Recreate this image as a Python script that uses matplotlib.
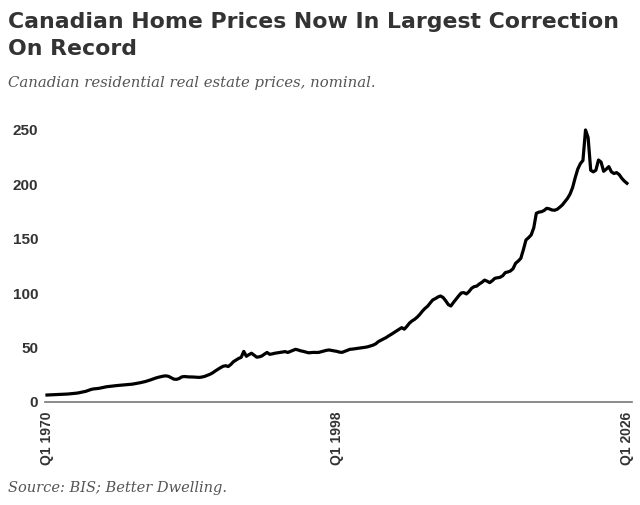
import matplotlib.pyplot as plt
import numpy as np

# quarterly index values, Q1 1970 .. Q1 2026
values = [
    6.4, 6.5, 6.6, 6.7,        # 1970
    6.8, 6.9, 7.0, 7.1,        # 1971
    7.3, 7.5, 7.7, 8.0,        # 1972
    8.3, 8.8, 9.3, 9.8,        # 1973
    10.6, 11.5, 12.0, 12.2,    # 1974
    12.5, 13.0, 13.5, 14.0,    # 1975
    14.3, 14.6, 14.9, 15.1,    # 1976
    15.3, 15.5, 15.7, 15.9,    # 1977
    16.1, 16.4, 16.8, 17.2,    # 1978
    17.7, 18.2, 18.8, 19.5,    # 1979
    20.3, 21.2, 22.0, 22.7,    # 1980
    23.2, 23.8, 24.0, 23.5,    # 1981
    22.2, 21.0, 20.8, 21.5,    # 1982
    23.0, 23.4, 23.2, 23.0,    # 1983
    23.0, 22.8, 22.7, 22.6,    # 1984
    23.0, 23.6, 24.5, 25.5,    # 1985
    26.8, 28.5, 30.0, 31.5,    # 1986
    32.8, 33.3, 32.6, 34.5,    # 1987
    37.0, 38.5, 40.0, 41.0,    # 1988
    46.5, 42.0, 43.5, 44.8,    # 1989
    43.0, 41.2, 41.5, 42.3,    # 1990
    44.0, 45.5, 43.8, 44.2,    # 1991
    44.8, 45.2, 45.6, 46.0,    # 1992
    46.3, 45.5, 46.5, 47.5,    # 1993
    48.4, 47.8, 47.0, 46.5,    # 1994
    45.8, 45.2, 45.4, 45.6,    # 1995
    45.5, 45.6, 46.2, 46.8,    # 1996
    47.5, 47.8, 47.3, 46.9,    # 1997
    46.5, 45.8, 45.6, 46.5,    # 1998
    47.5, 48.4, 48.6, 49.0,    # 1999
    49.3, 49.6, 49.9, 50.3,    # 2000
    50.8, 51.5, 52.3, 53.5,    # 2001
    55.5, 56.8, 58.0, 59.2,    # 2002
    60.8, 62.2, 63.8, 65.3,    # 2003
    66.8, 68.3, 66.9, 69.5,    # 2004
    72.5, 74.5, 76.0, 78.0,    # 2005
    80.5, 83.5, 86.0, 88.0,    # 2006
    91.0, 93.8, 95.0, 96.5,    # 2007
    97.4, 96.0, 93.0, 89.5,    # 2008
    88.2, 91.5, 94.5, 97.5,    # 2009
    100.2, 100.5, 99.3, 101.5, # 2010
    104.5, 106.0, 106.5, 108.5,  # 2011
    110.0, 112.0, 111.0, 109.7,  # 2012
    111.5, 113.7, 114.2, 114.6,  # 2013
    116.0, 118.9, 119.5, 120.4,  # 2014
    122.5, 127.5, 129.5, 132.0,  # 2015
    140.0, 148.9, 151.0, 153.5,  # 2016
    160.0, 173.4, 174.5, 174.9,  # 2017
    176.0, 178.0, 177.5, 176.5,  # 2018
    176.2, 177.0, 178.9, 181.0,  # 2019
    184.0, 187.0, 191.0, 197.0,  # 2020
    206.0, 214.0, 219.0, 222.0,  # 2021
    250.0, 243.0, 213.0, 211.5,  # 2022
    213.0, 222.4, 220.5, 212.0,  # 2023
    214.0, 216.3, 211.5, 210.0,  # 2024
    210.8, 209.0, 205.6, 203.0,  # 2025
    201.0,                       # 2026
]
quarters = ['Q%d %d' % (q, 1970 + i // 4) for i, q in
            enumerate([1, 2, 3, 4] * 56 + [1])]
tick_idx = [0, 112, 224]
y_ticks = [0, 50, 100, 150, 200, 250]

fig = plt.figure(figsize=(6.4, 5.05), dpi=100)
ax = fig.add_axes([0.0703, 0.204, 0.917, 0.5645])

x = np.arange(len(values))
ax.plot(x, values, color='black', lw=2.3, solid_joinstyle='round')

ax.set_xlim(-0.77, 225.9)
ax.set_ylim(0, 262)
ax.set_yticks(y_ticks)
ax.set_yticklabels([str(v) for v in y_ticks], fontsize=11,
                   fontweight='bold', color='#333333', family='Liberation Sans')
ax.set_xticks(tick_idx)
ax.set_xticklabels([quarters[i] for i in tick_idx], rotation=90, fontsize=10,
                   fontweight='bold', color='#333333', family='Liberation Sans')
ax.tick_params(axis='y', length=0, pad=5)
ax.tick_params(axis='x', length=0, pad=7)

for s in ['top', 'right', 'left']:
    ax.spines[s].set_visible(False)
ax.spines['bottom'].set_color('#777777')
ax.spines['bottom'].set_linewidth(1.2)

fig.text(0.013, 0.976, 'Canadian Home Prices Now In Largest Correction\nOn Record',
         fontsize=15.8, fontweight='bold', color='#333333', family='DejaVu Sans',
         va='top', linespacing=1.45)
fig.text(0.013, 0.836, 'Canadian residential real estate prices, nominal.',
         fontsize=10.75, style='italic', color='#555555', family='DejaVu Serif', va='center')
fig.text(0.013, 0.034, 'Source: BIS; Better Dwelling.',
         fontsize=10.5, style='italic', color='#555555', family='DejaVu Serif', va='center')

fig.savefig('out.png', dpi=100)
